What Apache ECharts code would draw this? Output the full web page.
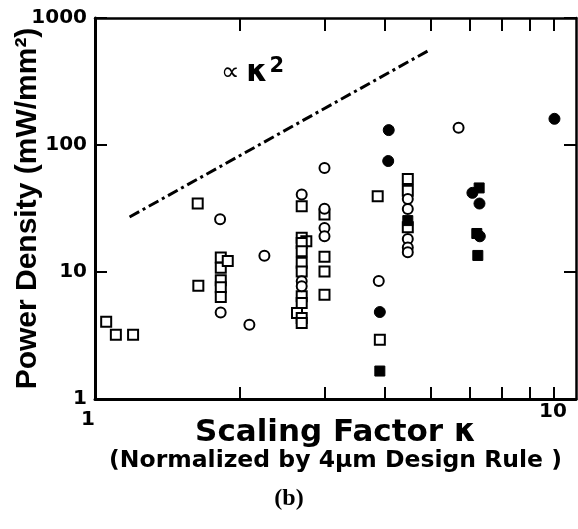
<!DOCTYPE html>
<html>
<head>
<meta charset="utf-8">
<script src="https://cdn.jsdelivr.net/npm/echarts@6/dist/echarts.min.js"></script>
<style>
html,body{margin:0;padding:0;background:#fff;}
#chart{width:578px;height:529px;}
</style>
</head>
<body>
<div id="chart"></div>
<script>
// ---- data (kappa, power density mW/mm^2) ----
const openSquares = [
  [1.055, 4.05], [1.105, 3.2], [1.20, 3.2], [1.635, 34.7], [1.64, 7.8],
  [1.826, 13.0], [1.826, 10.8], [1.826, 8.6], [1.826, 7.6], [1.826, 6.35], [1.888, 12.2],
  [2.69, 33.0], [2.69, 18.6], [2.75, 17.5], [2.69, 16.9], [2.69, 14.6], [2.69, 11.8],
  [2.69, 10.1], [2.69, 6.45], [2.69, 5.71], [2.63, 4.76], [2.69, 4.35], [2.69, 3.97],
  [3.0, 28.3], [3.0, 13.2], [3.0, 10.1], [3.0, 6.63],
  [3.87, 39.5], [3.91, 2.93],
  [4.47, 54.0], [4.47, 43.7], [4.47, 22.5]
];
const openCircles = [
  [1.82, 26.0], [1.825, 4.79], [2.25, 13.4], [2.094, 3.85],
  [2.69, 40.8], [2.69, 8.47], [2.69, 7.73],
  [3.0, 65.8], [3.0, 31.5], [3.0, 22.2], [3.0, 19.1],
  [3.89, 8.5],
  [4.47, 37.6], [4.47, 31.3], [4.47, 18.2], [4.47, 15.6], [4.47, 14.3],
  [5.70, 136.6]
];
const filledSquares = [
  [3.91, 1.66], [4.47, 25.4], [6.29, 45.9], [6.22, 20.1], [6.25, 13.5]
];
const filledCircles = [
  [4.08, 131], [4.07, 74.8], [3.91, 4.84],
  [6.09, 42.0], [6.30, 34.6], [6.31, 19.1], [9.02, 160.8]
];
const trendLine = [[1.18, 27.1], [4.96, 560]];
const xTickValues = [2, 3, 4, 5, 6, 7, 8, 9];
const xLabelValues = [1, 10];
const yLabels = ['1', '10', '100', '1000'];

const FONT = 'DejaVu Sans';
const chart = echarts.init(document.getElementById('chart'), null, {renderer: 'canvas'});

const baseX = {
  type: 'log', logBase: 10, min: 1, max: 10,
  splitLine: {show: false},
  axisLine: {show: true, lineStyle: {color: '#000', width: 3}},
};
const baseY = {
  type: 'log', logBase: 10, min: 1, max: 1000,
  splitLine: {show: false},
  axisLine: {show: true, lineStyle: {color: '#000', width: 3}},
  axisTick: {show: true, inside: true, length: 12, lineStyle: {color: '#000', width: 2}}
};

const option = {
  animation: false,
  backgroundColor: '#fff',
  grid: {left: 95, top: 18, width: 481, height: 381, containLabel: false, outerBoundsMode: 'none'},
  title: {
    text: '(b)', left: 'center', top: 482,
    textStyle: {fontFamily: 'Liberation Serif', fontWeight: 'bold', fontSize: 24, color: '#000'}
  },
  xAxis: [
    Object.assign({}, baseX, {
      position: 'bottom',
      axisTick: {show: true, inside: true, length: 12, customValues: xTickValues,
        lineStyle: {color: '#000', width: 2}},
      axisLabel: {
        show: true, customValues: xLabelValues, margin: 3,
        color: '#000', fontFamily: FONT, fontWeight: 'bold', fontSize: 20,
        formatter: function (v) { return v < 5 ? '{one|1}' : '{ten|10}'; },
        rich: {
          one: {fontFamily: FONT, fontWeight: 'bold', fontSize: 20, color: '#000', padding: [8, 14, 0, 0]},
          ten: {fontFamily: FONT, fontWeight: 'bold', fontSize: 20, color: '#000', padding: [0, 46, 0, 0]}
        }
      },
      name: '{a|Scaling Factor κ}\n{b|(Normalized by 4μm Design Rule )}',
      nameLocation: 'middle', nameGap: 18, nameMoveOverlap: false,
      nameTextStyle: {
        color: '#000',
        rich: {
          a: {fontFamily: FONT, fontWeight: 'bold', fontSize: 31, lineHeight: 31, color: '#000'},
          b: {fontFamily: FONT, fontWeight: 'bold', fontSize: 23.5, lineHeight: 26, color: '#000'}
        }
      }
    }),
    Object.assign({}, baseX, {
      position: 'top',
      axisLine: {show: true, lineStyle: {color: '#000', width: 2.5}},
      axisTick: {show: true, inside: true, length: 13, customValues: xTickValues,
        lineStyle: {color: '#000', width: 2}},
      axisLabel: {show: false}
    })
  ],
  yAxis: [
    Object.assign({}, baseY, {
      position: 'left',
      axisLabel: {
        show: true, margin: 8, color: '#000', fontFamily: FONT, fontWeight: 'bold', fontSize: 20,
        formatter: function (v) {
          const i = Math.round(Math.log10(v));
          return yLabels[i] !== undefined ? yLabels[i] : '';
        }
      },
      name: 'Power Density (mW/mm²)',
      nameLocation: 'middle', nameGap: 52, nameMoveOverlap: false,
      nameTextStyle: {fontFamily: 'Liberation Sans', fontWeight: 'bold', fontSize: 30, color: '#000'}
    }),
    Object.assign({}, baseY, {
      position: 'right',
      axisLine: {show: true, lineStyle: {color: '#000', width: 2.5}},
      axisLabel: {show: false}
    })
  ],
  graphic: [{
    type: 'text', left: 221, top: 56, z: 10,
    style: {
      text: '{p|∝}  {k|κ}{s|2}',
      rich: {
        p: {fontFamily: FONT, fontSize: 26, fill: '#000'},
        k: {fontFamily: FONT, fontWeight: 'bold', fontSize: 30, fill: '#000'},
        s: {fontFamily: FONT, fontWeight: 'bold', fontSize: 21, fill: '#000', padding: [0, 0, 13, 2]}
      }
    }
  }],
  series: [
    {
      type: 'line', data: trendLine, xAxisIndex: 0, yAxisIndex: 0,
      showSymbol: false, symbol: 'none', silent: true,
      lineStyle: {color: '#000', width: 3, type: [11, 4, 3, 4]}
    },
    {
      type: 'scatter', data: openSquares, symbol: 'rect', symbolSize: 10,
      itemStyle: {color: '#fff', borderColor: '#000', borderWidth: 2, opacity: 1}
    },
    {
      type: 'scatter', data: openCircles, symbol: 'circle', symbolSize: 10,
      itemStyle: {color: '#fff', borderColor: '#000', borderWidth: 2, opacity: 1}
    },
    {
      type: 'scatter', data: filledSquares, symbol: 'rect', symbolSize: 10,
      itemStyle: {color: '#000', borderColor: '#000', borderWidth: 1, opacity: 1}
    },
    {
      type: 'scatter', data: filledCircles, symbol: 'circle', symbolSize: 11,
      itemStyle: {color: '#000', borderColor: '#000', borderWidth: 1, opacity: 1}
    }
  ]
};
chart.setOption(option);
</script>
</body>
</html>
